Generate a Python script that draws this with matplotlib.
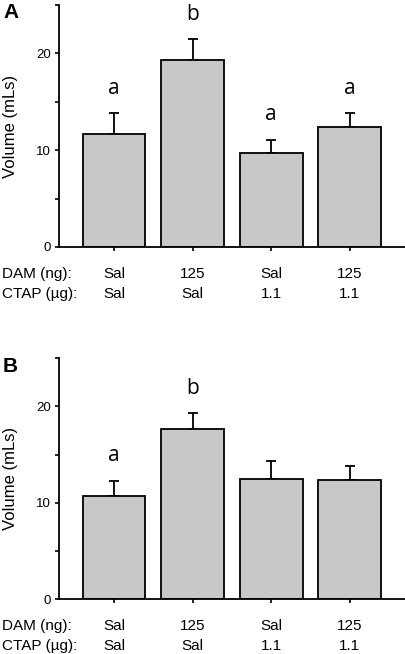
import matplotlib
matplotlib.use("Agg")
import matplotlib.pyplot as plt
from matplotlib.transforms import blended_transform_factory

plt.rcParams['font.family'] = ['Liberation Sans', 'DejaVu Sans']

dam_labels = ["Sal", "125", "Sal", "125"]
ctap_labels = ["Sal", "Sal", "1.1", "1.1"]

a_means = [11.7, 19.3, 9.7, 12.4]
a_errs = [2.1, 2.15, 1.4, 1.4]
a_letters = ["a", "b", "a", "a"]

b_means = [10.7, 17.6, 12.5, 12.4]
b_errs = [1.6, 1.7, 1.85, 1.45]
b_letters = ["a", "b", "", ""]

W, H = 406, 654
fig = plt.figure(figsize=(W / 100, H / 100), dpi=100)

def make_panel(top_px, bottom_px, right_px, means, errs, letters, panel, xmax):
    ax = fig.add_axes([59 / W, 1 - bottom_px / H, (right_px - 59) / W, (bottom_px - top_px) / H])
    x = [1, 2, 3, 4]
    ax.bar(x, means, width=0.8, color="#c8c8c8", edgecolor="black", linewidth=1.3, zorder=2)
    ax.errorbar(x, means, yerr=[[0] * 4, errs], fmt="none", ecolor="black",
                elinewidth=1.3, capsize=3.5, capthick=1.3, zorder=1)
    for xi, m, e, l in zip(x, means, errs, letters):
        if l:
            ax.text(xi, m + e + 2.0, l, ha="center", va="baseline", fontsize=15,
                    family=["Open Sans", "DejaVu Sans"])
    ax.set_xlim(0.3, xmax)
    ax.set_ylim(0, 25)
    ax.set_yticks([0, 5, 10, 15, 20, 25])
    ax.set_yticklabels(["0", "", "10", "", "20", ""])
    ax.set_xticks(x)
    ax.set_xticklabels([])
    ax.tick_params(direction="out", length=3, width=1.2, labelsize=9.5, pad=3)
    for s in ["top", "right"]:
        ax.spines[s].set_visible(False)
    for s in ["left", "bottom"]:
        ax.spines[s].set_linewidth(1.3)
    ax.set_ylabel("Volume (mLs)", fontsize=12)
    ax.yaxis.set_label_coords(-(59 - 18) / (right_px - 59), 0.5)
    tr = blended_transform_factory(ax.transData, fig.transFigure)
    y1 = 1 - (bottom_px + 27) / H
    y2 = 1 - (bottom_px + 47) / H
    for xi, d, c in zip(x, dam_labels, ctap_labels):
        ax.text(xi, y1, d, transform=tr, ha="center", va="center", fontsize=11)
        ax.text(xi, y2, c, transform=tr, ha="center", va="center", fontsize=11)
    fig.text(2 / W, y1, "DAM (ng):", ha="left", va="center", fontsize=11)
    fig.text(2 / W, y2, "CTAP (\u00b5g):", ha="left", va="center", fontsize=11)
    fig.text(3 / W, 1 - (top_px + 8) / H, panel, ha="left", va="center",
             fontsize=15, fontweight="bold")
    return ax

make_panel(5, 247, 406, a_means, a_errs, a_letters, "A", 4.717)
make_panel(358, 599.3, 406, b_means, b_errs, b_letters, "B", 4.717)

fig.savefig("out.png", dpi=100)
